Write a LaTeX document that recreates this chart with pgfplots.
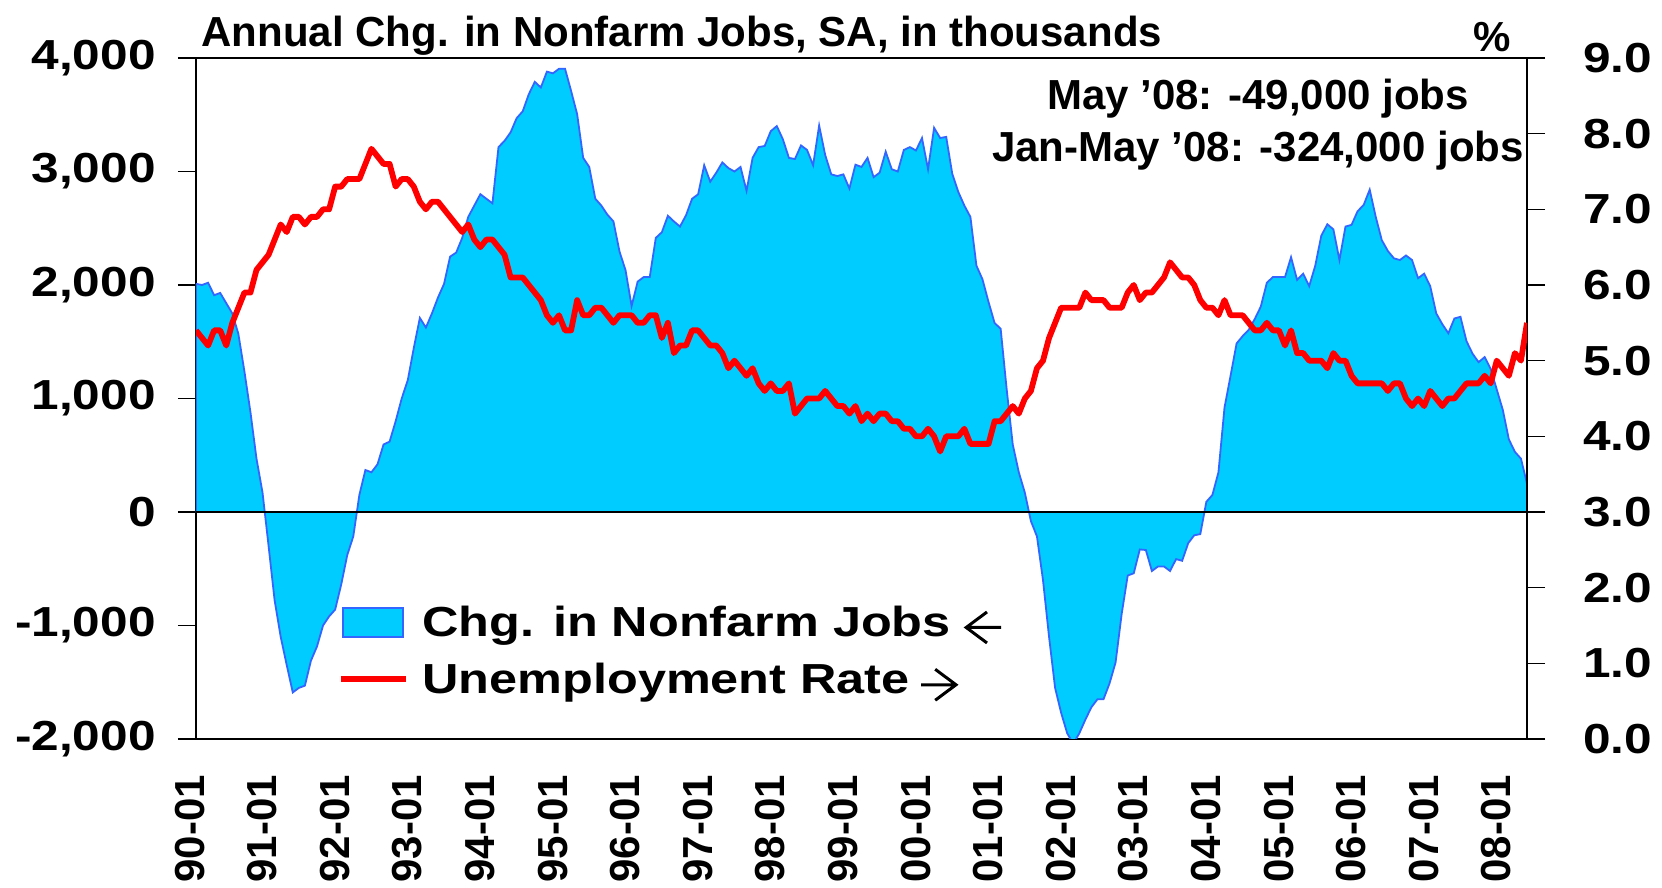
\documentclass[border=0pt]{standalone}
\usepackage{fontspec}
\setmainfont{Liberation Sans}
\usepackage{graphicx}
\usepackage{pgfplots}
\pgfplotsset{compat=1.18}
\definecolor{jobfill}{RGB}{0,204,255}
\definecolor{jobedge}{RGB}{51,102,255}
\newcommand\bigf{\fontsize{21}{25}\selectfont\bfseries}
\newcommand\larr{\tikz[baseline=0pt]\draw[black, line width=1.5pt, line cap=butt, line join=miter] (18pt,4.6pt) -- (0.6pt,4.6pt) (11pt,12.35pt) -- (0.6pt,4.6pt) -- (11pt,-3.15pt);}
\newcommand\rarr{\tikz[baseline=0pt]\draw[black, line width=1.5pt, line cap=butt, line join=miter] (0pt,4.6pt) -- (17.4pt,4.6pt) (7pt,12.35pt) -- (17.4pt,4.6pt) -- (7pt,-3.15pt);}
\begin{document}
\begin{tikzpicture}
\path[use as bounding box] (0,0) rectangle (831pt,444pt);
\begin{axis}[
  at={(98pt,74.5pt)}, anchor=south west,
  scale only axis, width=665.5pt, height=340.5pt,
  xmin=0, xmax=220, ymin=-2000, ymax=4000,
  ytick={-2000,-1000,...,4000},
  ytick pos=left,
  tick align=outside,
  major tick length=9pt,
  xtick={0,12,...,216},
  xticklabels={90-01,91-01,92-01,93-01,94-01,95-01,96-01,97-01,98-01,99-01,00-01,01-01,02-01,03-01,04-01,05-01,06-01,07-01,08-01},
  xtick style={draw=none},
  xticklabel style={rotate=90, anchor=east, inner sep=0pt, font=\bigf, xshift=-8.8pt, yshift=3.2pt},
  yticklabel style={anchor=east, inner sep=0pt, font=\bigf, xshift=-11pt},
  yticklabel={\scalebox{1.18}[1]{\pgfmathprintnumber{\tick}}},
  /pgf/number format/1000 sep={,},
  /pgf/number format/assume math mode=true,
  axis line style={line width=0.7pt},
  every tick/.style={black, line width=0.7pt},
]
\addplot[fill=jobfill, draw=jobedge, line width=0.9pt] coordinates {
(0,0)
(0,2010)(1,2000)(2,2020)(3,1910)(4,1930)(5,1840)(6,1750)(7,1570)(8,1240)(9,880)(10,470)(11,170)
(12,-300)(13,-780)(14,-1100)(15,-1350)(16,-1590)(17,-1550)(18,-1530)(19,-1310)(20,-1185)(21,-1000)(22,-920)(23,-860)
(24,-640)(25,-380)(26,-215)(27,150)(28,370)(29,350)(30,420)(31,595)(32,620)(33,800)(34,1000)(35,1160)
(36,1445)(37,1710)(38,1625)(39,1750)(40,1890)(41,2010)(42,2250)(43,2285)(44,2415)(45,2600)(46,2700)(47,2800)
(48,2760)(49,2720)(50,3215)(51,3270)(52,3345)(53,3470)(54,3530)(55,3680)(56,3790)(57,3740)(58,3880)(59,3865)
(60,3905)(61,3905)(62,3710)(63,3505)(64,3120)(65,3040)(66,2760)(67,2700)(68,2620)(69,2560)(70,2295)(71,2130)
(72,1815)(73,2030)(74,2070)(75,2070)(76,2415)(77,2465)(78,2610)(79,2560)(80,2515)(81,2615)(82,2760)(83,2800)
(84,3055)(85,2910)(86,2990)(87,3080)(88,3030)(89,3000)(90,3040)(91,2830)(92,3120)(93,3215)(94,3225)(95,3355)
(96,3400)(97,3285)(98,3120)(99,3110)(100,3230)(101,3190)(102,3055)(103,3405)(104,3145)(105,2975)(106,2960)(107,2975)
(108,2850)(109,3060)(110,3040)(111,3120)(112,2950)(113,2990)(114,3175)(115,3020)(116,3000)(117,3190)(118,3215)(119,3185)
(120,3295)(121,3020)(122,3385)(123,3295)(124,3305)(125,2980)(126,2820)(127,2700)(128,2600)(129,2170)(130,2050)(131,1850)
(132,1665)(133,1615)(134,1080)(135,595)(136,350)(137,170)(138,-80)(139,-215)(140,-600)(141,-1100)(142,-1550)(143,-1770)
(144,-1950)(145,-2040)(146,-1950)(147,-1830)(148,-1720)(149,-1650)(150,-1650)(151,-1510)(152,-1325)(153,-900)(154,-560)(155,-540)
(156,-330)(157,-335)(158,-520)(159,-480)(160,-480)(161,-520)(162,-415)(163,-430)(164,-275)(165,-205)(166,-195)(167,90)
(168,150)(169,350)(170,920)(171,1200)(172,1485)(173,1550)(174,1605)(175,1700)(176,1810)(177,2020)(178,2070)(179,2070)
(180,2070)(181,2245)(182,2045)(183,2100)(184,1990)(185,2170)(186,2435)(187,2535)(188,2490)(189,2220)(190,2515)(191,2530)
(192,2650)(193,2705)(194,2840)(195,2600)(196,2395)(197,2300)(198,2235)(199,2220)(200,2260)(201,2220)(202,2060)(203,2100)
(204,1990)(205,1750)(206,1655)(207,1575)(208,1705)(209,1720)(210,1505)(211,1395)(212,1320)(213,1365)(214,1260)(215,1080)
(216,900)(217,640)(218,530)(219,470)(220,250)
(220,0)} -- cycle;
\addplot[black, line width=0.7pt] coordinates {(0,0) (220,0)};
\end{axis}
\begin{axis}[
  at={(98pt,74.5pt)}, anchor=south west,
  scale only axis, width=665.5pt, height=340.5pt,
  xmin=0, xmax=220, ymin=0, ymax=9,
  axis y line*=right, axis x line=none,
  ytick={0,1,...,9},
  tick align=outside,
  major tick length=9pt,
  yticklabel style={anchor=west, inner sep=0pt, font=\bigf, xshift=19pt},
  yticklabel={\scalebox{1.18}[1]{\pgfmathprintnumber[fixed,fixed zerofill,precision=1]{\tick}}},
  /pgf/number format/assume math mode=true,
  axis line style={line width=0.7pt},
  every tick/.style={black, line width=0.7pt},
  legend style={draw=none, fill=none, at={(axis description cs:0.1067,0.1943)}, anchor=north west,
    inner sep=0pt, outer sep=0pt, row sep=9.25pt,
    /tikz/every odd column/.append style={column sep=6.8pt},
    nodes={inner sep=0pt, text height=15pt, text depth=4.4pt, font=\bigf, anchor=west}},
  legend cell align=left,
]
\addlegendimage{legend image code/.code={\draw[fill=jobfill, draw=jobedge, line width=0.9pt] (1pt,-5.45pt) rectangle (31pt,9.05pt);}}
\addlegendentry{\scalebox{1.2}[1]{Chg. in Nonfarm Jobs}\hspace{7pt}\larr}
\addplot[red, line width=2.9pt, line join=round,
  legend image code/.code={\draw[red, line width=2.9pt] (0pt,2.2pt) -- (32.5pt,2.2pt);}] coordinates {
(0,5.4)(1,5.3)(2,5.2)(3,5.4)(4,5.4)(5,5.2)(6,5.5)(7,5.7)(8,5.9)(9,5.9)(10,6.2)(11,6.3)
(12,6.4)(13,6.6)(14,6.8)(15,6.7)(16,6.9)(17,6.9)(18,6.8)(19,6.9)(20,6.9)(21,7.0)(22,7.0)(23,7.3)
(24,7.3)(25,7.4)(26,7.4)(27,7.4)(28,7.6)(29,7.8)(30,7.7)(31,7.6)(32,7.6)(33,7.3)(34,7.4)(35,7.4)
(36,7.3)(37,7.1)(38,7.0)(39,7.1)(40,7.1)(41,7.0)(42,6.9)(43,6.8)(44,6.7)(45,6.8)(46,6.6)(47,6.5)
(48,6.6)(49,6.6)(50,6.5)(51,6.4)(52,6.1)(53,6.1)(54,6.1)(55,6.0)(56,5.9)(57,5.8)(58,5.6)(59,5.5)
(60,5.6)(61,5.4)(62,5.4)(63,5.8)(64,5.6)(65,5.6)(66,5.7)(67,5.7)(68,5.6)(69,5.5)(70,5.6)(71,5.6)
(72,5.6)(73,5.5)(74,5.5)(75,5.6)(76,5.6)(77,5.3)(78,5.5)(79,5.1)(80,5.2)(81,5.2)(82,5.4)(83,5.4)
(84,5.3)(85,5.2)(86,5.2)(87,5.1)(88,4.9)(89,5.0)(90,4.9)(91,4.8)(92,4.9)(93,4.7)(94,4.6)(95,4.7)
(96,4.6)(97,4.6)(98,4.7)(99,4.3)(100,4.4)(101,4.5)(102,4.5)(103,4.5)(104,4.6)(105,4.5)(106,4.4)(107,4.4)
(108,4.3)(109,4.4)(110,4.2)(111,4.3)(112,4.2)(113,4.3)(114,4.3)(115,4.2)(116,4.2)(117,4.1)(118,4.1)(119,4.0)
(120,4.0)(121,4.1)(122,4.0)(123,3.8)(124,4.0)(125,4.0)(126,4.0)(127,4.1)(128,3.9)(129,3.9)(130,3.9)(131,3.9)
(132,4.2)(133,4.2)(134,4.3)(135,4.4)(136,4.3)(137,4.5)(138,4.6)(139,4.9)(140,5.0)(141,5.3)(142,5.5)(143,5.7)
(144,5.7)(145,5.7)(146,5.7)(147,5.9)(148,5.8)(149,5.8)(150,5.8)(151,5.7)(152,5.7)(153,5.7)(154,5.9)(155,6.0)
(156,5.8)(157,5.9)(158,5.9)(159,6.0)(160,6.1)(161,6.3)(162,6.2)(163,6.1)(164,6.1)(165,6.0)(166,5.8)(167,5.7)
(168,5.7)(169,5.6)(170,5.8)(171,5.6)(172,5.6)(173,5.6)(174,5.5)(175,5.4)(176,5.4)(177,5.5)(178,5.4)(179,5.4)
(180,5.2)(181,5.4)(182,5.1)(183,5.1)(184,5.0)(185,5.0)(186,5.0)(187,4.9)(188,5.1)(189,5.0)(190,5.0)(191,4.8)
(192,4.7)(193,4.7)(194,4.7)(195,4.7)(196,4.7)(197,4.6)(198,4.7)(199,4.7)(200,4.5)(201,4.4)(202,4.5)(203,4.4)
(204,4.6)(205,4.5)(206,4.4)(207,4.5)(208,4.5)(209,4.6)(210,4.7)(211,4.7)(212,4.7)(213,4.8)(214,4.7)(215,5.0)
(216,4.9)(217,4.8)(218,5.1)(219,5.0)(220,5.5)};
\addlegendentry{\scalebox{1.2}[1]{Unemployment Rate}\hspace{5pt}\rarr}
\end{axis}
\node[anchor=base west, inner sep=0pt, font=\bigf] at (100.5pt,420.6pt) {Annual Chg. in Nonfarm Jobs, SA, in thousands};
\node[anchor=base east, inner sep=0pt, font=\bigf] at (755.5pt,418pt) {\%};
\node[anchor=base, inner sep=0pt, font=\bigf] at (629pt,389pt) {May ’08: -49,000 jobs};
\node[anchor=base, inner sep=0pt, font=\bigf] at (629pt,363.2pt) {Jan-May ’08: -324,000 jobs};
\end{tikzpicture}
\end{document}
